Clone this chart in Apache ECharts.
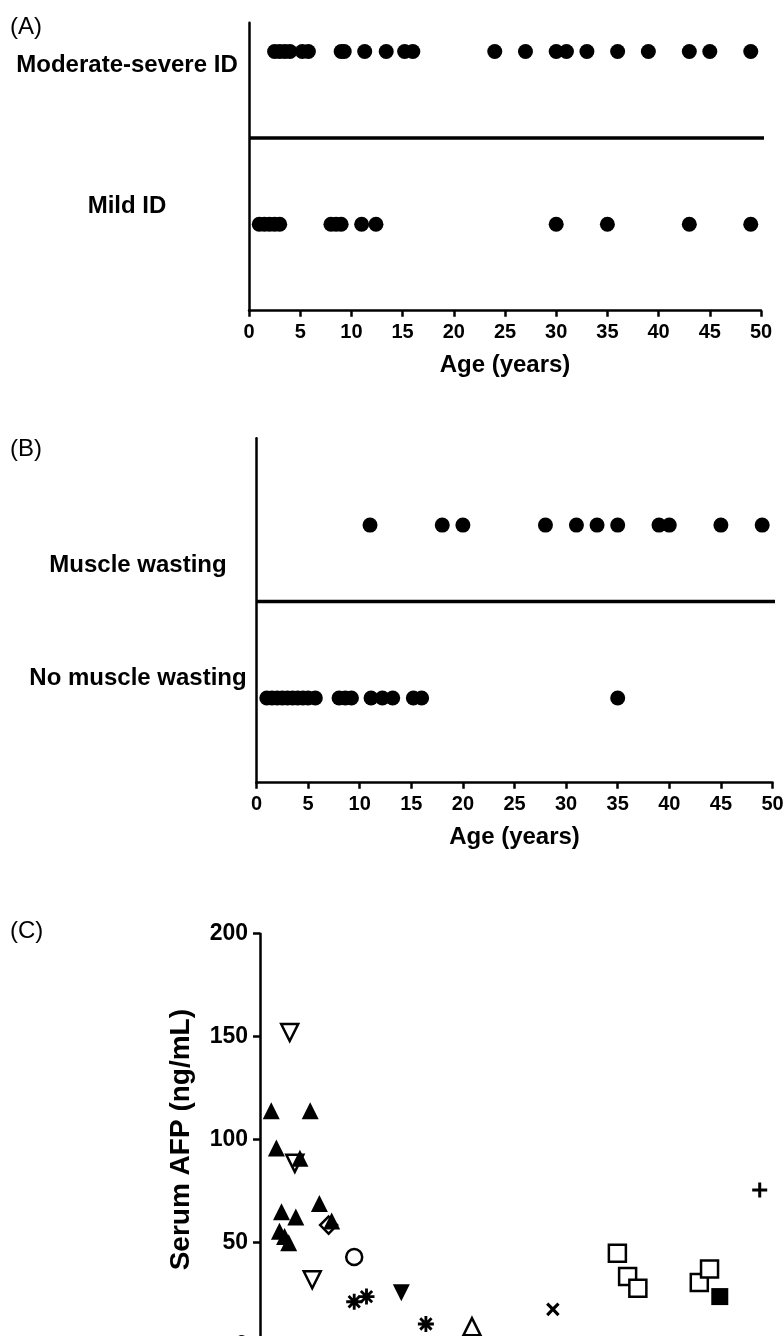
<!DOCTYPE html>
<html>
<head>
<meta charset="utf-8">
<script src="https://cdn.jsdelivr.net/npm/echarts@6/dist/echarts.min.js"></script>
<style>
  html, body { margin: 0; padding: 0; background: #fff; }
  #chart { width: 783px; height: 1336px; }
</style>
</head>
<body>
<div id="chart"></div>
<script>
const ageModerateSevere = [2.5, 3, 3.5, 4, 5.2, 5.8, 9, 9.3, 11.3, 13.4, 15.2, 16, 24, 27, 30, 31, 33, 36, 39, 43, 45, 49];
const ageMild = [1, 1.5, 2, 2.5, 3, 8, 8.5, 9, 11, 12.4, 30, 35, 43, 49];
const ageWasting = [11, 18, 20, 28, 31, 33, 35, 39, 40, 45, 49];
const ageNoWasting = [1, 1.5, 2, 2.5, 3, 3.5, 4, 4.5, 5, 5.7, 8, 8.6, 9.2, 11.1, 12.2, 13.2, 15.2, 16, 35];
const groupsA = ['Moderate-severe ID', 'Mild ID'];
const groupsB = ['Muscle wasting', 'No muscle wasting'];
const ageTicks = [0, 50, 5];

// panel C: [age, serum AFP]
const afpFilledUp = [[1.1, 114], [4.9, 114], [1.6, 96], [3.9, 91], [2.1, 65], [3.5, 62.5], [5.8, 69], [1.9, 55.5], [2.4, 53], [2.8, 50], [7.0, 60.5]];
const afpOpenDiamond = [[6.7, 58.5]];
const afpOpenDown = [[2.9, 152], [3.4, 88.5], [5.1, 32]];
const afpOpenCircle = [[9.2, 43]];
const afpAsterisk = [[9.2, 21.3], [10.4, 23.8], [16.2, 10.5]];
const afpFilledDown = [[13.8, 25.7]];
const afpOpenUp = [[20.7, 9.2]];
const afpCross = [[28.6, 17.6]];
const afpOpenSquare = [[34.9, 44.8], [35.9, 33.5], [36.9, 27.8], [42.9, 30.6], [43.9, 37.2]];
const afpFilledSquare = [[44.9, 23.8]];
const afpPlus = [[48.8, 75.6]];
const afpTicks = [0, 200, 50];

const FONT = "'Liberation Sans', Arial, sans-serif";
const BLACK = '#000';

const plusPath = 'path://M4,0H6V4H10V6H6V10H4V6H0V4H4Z';
const starPath = 'path://M8.4,1H11.6V19H8.4Z M1,8.4H19V11.6H1Z ' +
  'M4.77,2.51L17.5,15.23L15.23,17.5L2.51,4.77Z M17.5,4.77L4.77,17.5L2.51,15.23L15.23,2.51Z';

const chart = echarts.init(document.getElementById('chart'), null, { renderer: 'canvas' });

function ageAxis(gridIndex) {
  return {
    type: 'value', gridIndex: gridIndex,
    min: ageTicks[0], max: ageTicks[1], interval: ageTicks[2],
    name: gridIndex < 2 ? 'Age (years)' : '',
    nameLocation: 'middle', nameGap: 43,
    nameTextStyle: { color: BLACK, fontSize: 24, fontWeight: 'bold', fontFamily: FONT },
    axisLine: { lineStyle: { color: BLACK, width: 2.5 } },
    axisTick: { length: 6, lineStyle: { color: BLACK, width: 2.5 } },
    axisLabel: { color: BLACK, fontSize: 20, fontWeight: 'bold', fontFamily: FONT, margin: 12 },
    splitLine: { show: false }
  };
}

function groupAxis(gridIndex, names, positions, margin) {
  return {
    type: 'value', gridIndex: gridIndex, min: 0, max: 10,
    axisLine: { show: true, lineStyle: { color: BLACK, width: 2.5 } },
    axisTick: { show: false },
    axisLabel: {
      customValues: positions,
      formatter: v => names[positions.indexOf(v)] || '',
      align: 'center', margin: margin,
      color: BLACK, fontSize: 24, fontWeight: 'bold', fontFamily: FONT
    },
    splitLine: { show: false }
  };
}

function dots(xi, ages, row) {
  return {
    type: 'scatter', xAxisIndex: xi, yAxisIndex: xi,
    symbol: 'circle', symbolSize: 15,
    itemStyle: { color: BLACK, opacity: 1 },
    data: ages.map(a => [a, row])
  };
}

function divider(xi, row, end) {
  return {
    type: 'line', xAxisIndex: xi, yAxisIndex: xi, clip: false,
    symbol: 'none', lineStyle: { color: BLACK, width: 3.5 },
    data: [[0, row], [end, row]]
  };
}

function marks(data, symbol, filled, size, rotate) {
  return {
    type: 'scatter', xAxisIndex: 2, yAxisIndex: 2,
    symbol: symbol, symbolSize: size, symbolRotate: rotate || 0,
    itemStyle: filled
      ? { color: BLACK, opacity: 1 }
      : { color: '#fff', borderColor: BLACK, borderWidth: 2.5, opacity: 1 },
    data: data
  };
}

const titleStyle = { color: BLACK, fontSize: 24, fontWeight: 'normal', fontFamily: FONT };

chart.setOption({
  animation: false,
  backgroundColor: '#fff',
  title: [
    { text: '(A)', left: 5, top: 10, textStyle: titleStyle },
    { text: '(B)', left: 5, top: 432, textStyle: titleStyle },
    { text: '(C)', left: 5, top: 914, textStyle: titleStyle }
  ],
  grid: [
    { left: 249, top: 22.7, width: 512, height: 288, outerBoundsMode: 'none' },
    { left: 256.5, top: 438.3, width: 516, height: 344.4, outerBoundsMode: 'none' },
    { left: 260, top: 933.7, width: 512, height: 411.9, outerBoundsMode: 'none' }
  ],
  xAxis: [ageAxis(0), ageAxis(1), ageAxis(2)],
  yAxis: [
    groupAxis(0, groupsA, [8.53, 3.61], 122),
    groupAxis(1, groupsB, [6.32, 3.04], 118.5),
    {
      type: 'value', gridIndex: 2,
      min: afpTicks[0], max: afpTicks[1], interval: afpTicks[2],
      name: 'Serum AFP (ng/mL)', nameLocation: 'middle', nameGap: 65,
      nameTextStyle: { color: BLACK, fontSize: 28, fontWeight: 'bold', fontFamily: FONT },
      axisLine: { lineStyle: { color: BLACK, width: 2.5 } },
      axisTick: { length: 7, lineStyle: { color: BLACK, width: 2.5 } },
      axisLabel: { color: BLACK, fontSize: 23, fontWeight: 'bold', fontFamily: FONT, margin: 12 },
      splitLine: { show: false }
    }
  ],
  series: [
    dots(0, ageModerateSevere, 9),
    dots(0, ageMild, 3),
    divider(0, 6, 50.7),
    dots(1, ageWasting, 7.48),
    dots(1, ageNoWasting, 2.46),
    divider(1, 5.26, 51),
    marks(afpOpenDown, 'triangle', false, 17, 180),
    marks(afpOpenDiamond, 'diamond', false, 17),
    marks(afpFilledUp, 'triangle', true, 17),
    marks(afpOpenCircle, 'circle', false, 16),
    marks(afpAsterisk, starPath, true, 16),
    marks(afpFilledDown, 'triangle', true, 17, 180),
    marks(afpOpenUp, 'triangle', false, 17),
    marks(afpCross, plusPath, true, 16, 45),
    marks(afpOpenSquare, 'rect', false, 17),
    marks(afpFilledSquare, 'rect', true, 17),
    marks(afpPlus, plusPath, true, 15)
  ]
});
</script>
</body>
</html>
